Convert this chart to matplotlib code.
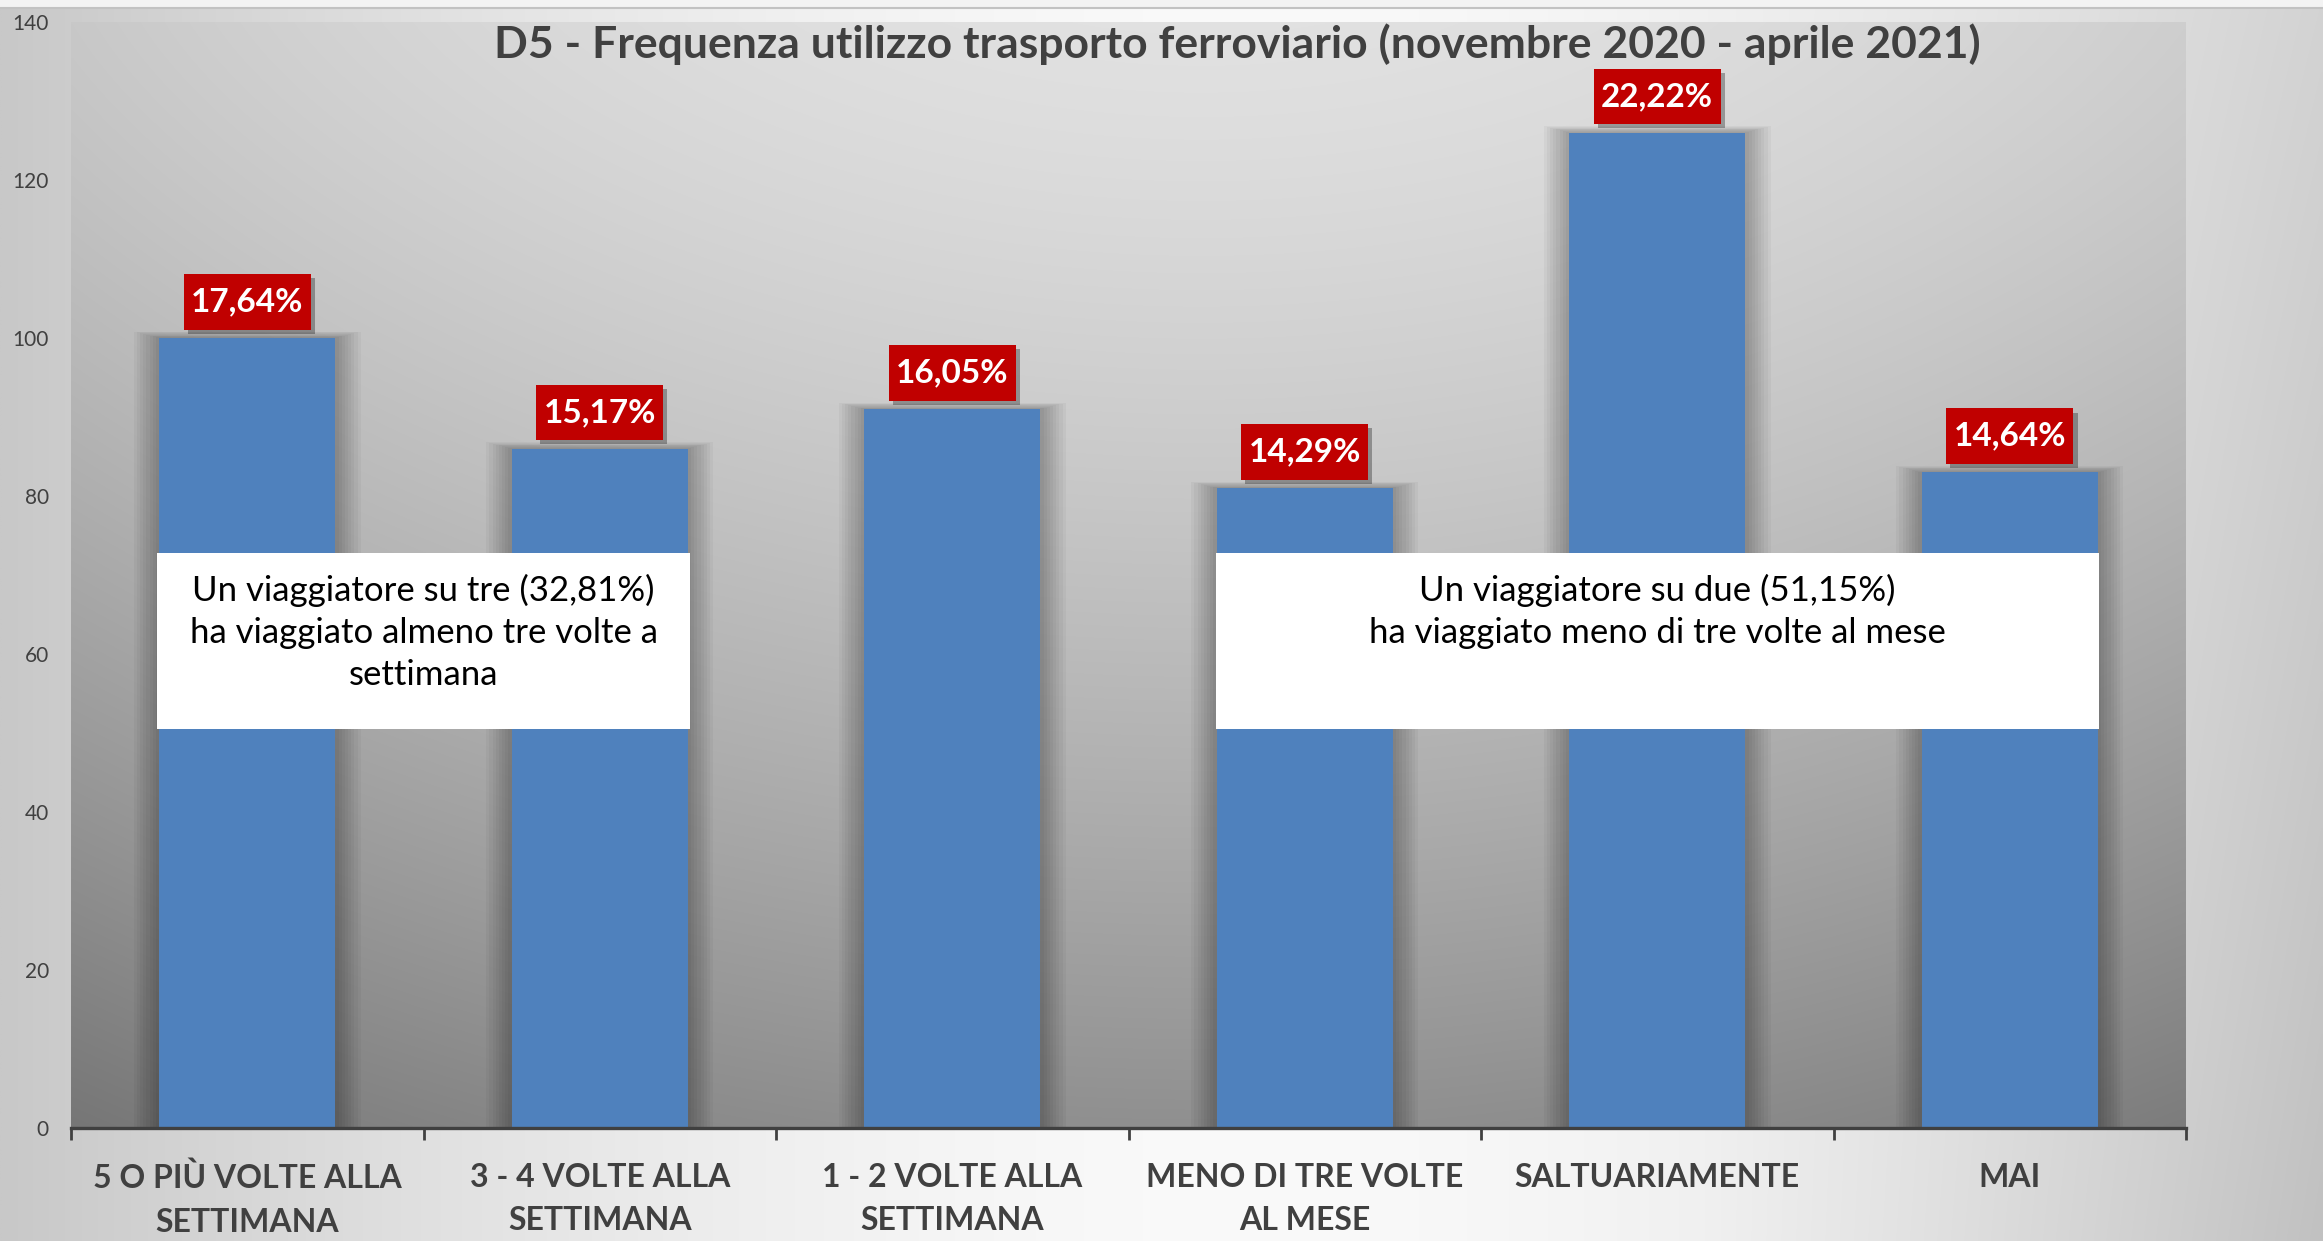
import numpy as np
import matplotlib
matplotlib.use("Agg")
import matplotlib.pyplot as plt
import matplotlib.patheffects as pe
from matplotlib.patches import Rectangle
from matplotlib.lines import Line2D
from matplotlib.path import Path

plt.rcParams["font.family"] = ["Lato", "DejaVu Sans"]

# -------------------------
# Data
# -------------------------
title = "D5 - Frequenza utilizzo trasporto ferroviario (novembre 2020 - aprile 2021)"
categories = [
    "5 O PIÙ VOLTE ALLA\nSETTIMANA",
    "3 - 4 VOLTE ALLA\nSETTIMANA",
    "1 - 2 VOLTE ALLA\nSETTIMANA",
    "MENO DI TRE VOLTE\nAL MESE",
    "SALTUARIAMENTE",
    "MAI",
]
counts = [100, 86, 91, 81, 126, 83]
percent_labels = ["17,64%", "15,17%", "16,05%", "14,29%", "22,22%", "14,64%"]
y_ticks = [0, 20, 40, 60, 80, 100, 120, 140]
note_left = "Un viaggiatore su tre (32,81%)\nha viaggiato almeno tre volte a\nsettimana"
note_right = "Un viaggiatore su due (51,15%)\nha viaggiato meno di tre volte al mese"

W, H = 2323, 1241
DARK = "#404040"
BAR = "#4f81bd"
RED = "#c00000"


def label_box(x0, y0, width, height, mutation_size):
    # box taller than the plain text pad, like the excel data labels
    px, py = 0.22 * mutation_size, 0.4 * mutation_size
    return Path([(x0 - px, y0 - py), (x0 + width + px, y0 - py),
                 (x0 + width + px, y0 + height + py), (x0 - px, y0 + height + py),
                 (x0 - px, y0 - py)], closed=True)


fig = plt.figure(figsize=(W / 100, H / 100), dpi=100)

# -------------------------
# Figure background gradient
# -------------------------
bg = fig.add_axes([0, 0, 1, 1], zorder=-10)
yy, xx = np.mgrid[0:H:4, 0:W:4]
dx = (xx - 1250) / 1250.0
v = 250 - 50 * np.abs(dx) ** 1.6 - 18 * np.clip((xx - 1700) / 620.0, 0, 1) * (yy / H)
v = np.clip(v, 0, 255) / 255.0
bg.imshow(np.dstack([v, v, v]), extent=(0, 1, 0, 1), aspect="auto",
          interpolation="bilinear", origin="upper")
bg.set_axis_off()

# thin strip at the very top
fig.add_artist(Rectangle((0, 1 - 7 / H), 1, 7 / H, transform=fig.transFigure,
                         fc="#f3f3f3", ec="none", zorder=-5))
fig.add_artist(Line2D([0, 1], [1 - 7.5 / H, 1 - 7.5 / H], transform=fig.transFigure,
                      color="#c2c2c2", lw=1.5, zorder=-5))

# -------------------------
# Main axes
# -------------------------
left, right, top, bottom = 71, 2186, 22, 1128
ax = fig.add_axes([left / W, 1 - bottom / H, (right - left) / W, (bottom - top) / H])
ax.patch.set_alpha(0)

# plot area gradient
py, px = np.mgrid[0:1106:4, 0:2115:4]
gx = px + left
gy = py + top
pv = 226 - 80 * (gy / 1100.0) ** 1.4 - 24 * ((gx - 1200) / 1100.0) ** 2
pv = np.clip(pv, 0, 255) / 255.0
ax.imshow(np.dstack([pv, pv, pv]), extent=(-0.5, len(categories) - 0.5, 0, 142),
          aspect="auto", interpolation="bilinear", origin="upper", zorder=0)
ax.set_xlim(-0.5, len(categories) - 0.5)
ax.set_ylim(0, 140)

x = np.arange(len(categories))

# soft shadow around bars
for k in range(1, 9):
    ax.bar(x, np.array(counts) + k * 0.1, width=0.5 + 2 * 0.009 * k,
           color="black", alpha=0.035, linewidth=0, zorder=1)

ax.bar(x, counts, width=0.5, color=BAR, linewidth=0, zorder=2)

# percentage labels in red boxes
for i, (c, lbl) in enumerate(zip(counts, percent_labels)):
    t = ax.annotate(lbl, xy=(i, c), xytext=(0, 26), textcoords="offset points",
                    ha="center", va="center", fontsize=24, fontweight="bold",
                    color="white", zorder=4,
                    bbox=dict(boxstyle=label_box, fc=RED, ec="none"))
    t.get_bbox_patch().set_path_effects([
        pe.SimplePatchShadow(offset=(3, -3), shadow_rgbFace="black", alpha=0.3),
        pe.Normal(),
    ])

# note boxes
notes = [(0.5, 1.51, note_left), (4.0, 2.505, note_right)]
for cx, w, txt in notes:
    ax.add_patch(Rectangle((cx - w / 2, 50.5), w, 22.3, fc="white", ec="none", zorder=5))
    ax.annotate(txt, xy=(cx, 72.8), xytext=(0, -15), textcoords="offset points",
                ha="center", va="top", fontsize=25, color="black",
                linespacing=1.38, zorder=6)

# -------------------------
# Axes styling
# -------------------------
for side in ["top", "right", "left"]:
    ax.spines[side].set_visible(False)
ax.spines["bottom"].set_color(DARK)
ax.spines["bottom"].set_linewidth(2.4)
ax.spines["bottom"].set_zorder(7)

ax.set_xticks(np.arange(-0.5, len(categories), 1.0))
ax.set_xticklabels([])
ax.set_xticks(x, minor=True)
ax.set_xticklabels(categories, minor=True, fontsize=23, fontweight="bold",
                   color=DARK, linespacing=1.6)
ax.tick_params(axis="x", which="major", length=8.5, width=2, color=DARK, direction="out")
ax.tick_params(axis="x", which="minor", length=0, pad=25)

ax.set_yticks(y_ticks)
ax.set_yticklabels([str(t) for t in y_ticks], fontsize=15, color=DARK)
ax.tick_params(axis="y", length=0, pad=16)

fig.text(1237 / W, 1 - 58 / H, title, ha="center", va="baseline",
         fontsize=32, fontweight="bold", color=DARK)

fig.savefig("out.png", dpi=100)
